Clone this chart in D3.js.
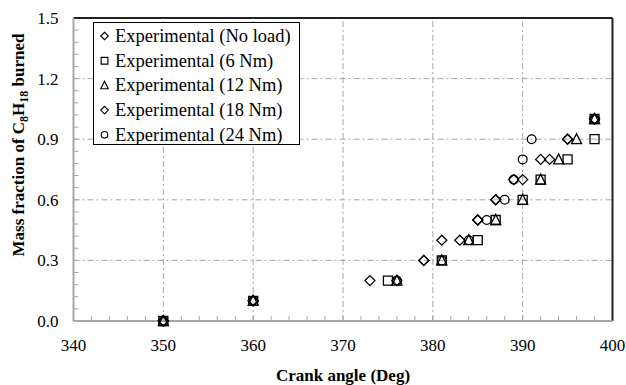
<!DOCTYPE html>
<html>
<head>
<meta charset="utf-8">
<script src="https://cdn.jsdelivr.net/npm/d3@7"></script>
<style>
  body { margin: 0; background: #fff; }
  text { font-family: "Liberation Serif", "Times New Roman", serif; }
</style>
</head>
<body>
<div id="chart"></div>
<script>
// mass fraction levels shared by every series
const fractions = [0, 0.1, 0.2, 0.3, 0.4, 0.5, 0.6, 0.7, 0.8, 0.9, 1.0];

// crank angle (deg) at which each fraction is reached
const noLoad = [350, 360, 373, 379, 381, 385, 387, 389, 392, 395, 398];
const load6 = [350, 360, 375, 381, 385, 387, 390, 392, 395, 398, 398];
const load12 = [350, 360, 376, 381, 384, 387, 390, 392, 394, 396, 398];
const load18 = [350, 360, 376, 379, 383, 385, 387, 390, 393, 395, 398];
const load24 = [350, 360, 376, 381, 384, 386, 388, 389, 390, 391, 398];

const seriesNames = ['Experimental (No load)', 'Experimental (6 Nm)', 'Experimental (12 Nm)',
  'Experimental (18 Nm)', 'Experimental (24 Nm)'];
const seriesShapes = ['diamond', 'square', 'triangle', 'diamond', 'circle'];
const seriesAngles = [noLoad, load6, load12, load18, load24];

const xTicks = [340, 350, 360, 370, 380, 390, 400];
const yTicks = [0, 0.3, 0.6, 0.9, 1.2, 1.5];

const width = 626, height = 385;
const margin = { left: 73.5, right: 13.5, top: 18, bottom: 64 };

const svg = d3.select('#chart').append('svg')
  .attr('width', width)
  .attr('height', height);

const x = d3.scaleLinear().domain([340, 400]).range([margin.left, width - margin.right]);
const y = d3.scaleLinear().domain([0, 1.5]).range([height - margin.bottom, margin.top]);

const gridColor = '#a6a6a6';

// dash-dot grid
svg.append('g').selectAll('line')
  .data(xTicks.slice(1, -1))
  .enter().append('line')
  .attr('x1', d => x(d)).attr('x2', d => x(d))
  .attr('y1', y(0)).attr('y2', y(1.5))
  .attr('stroke', gridColor).attr('stroke-width', 1)
  .attr('stroke-dasharray', '6,3,2,3');

svg.append('g').selectAll('line')
  .data(yTicks.slice(1, -1))
  .enter().append('line')
  .attr('x1', x(340)).attr('x2', x(400))
  .attr('y1', d => y(d)).attr('y2', d => y(d))
  .attr('stroke', gridColor).attr('stroke-width', 1)
  .attr('stroke-dasharray', '6,3,2,3');

// minor ticks pointing inward
const xMinor = d3.range(340, 401, 2);
svg.append('g').selectAll('line')
  .data(xMinor)
  .enter().append('line')
  .attr('x1', d => x(d)).attr('x2', d => x(d))
  .attr('y1', y(0)).attr('y2', y(0) - 5)
  .attr('stroke', gridColor).attr('stroke-width', 1);

const yMinor = d3.range(0, 1.5001, 0.06);
svg.append('g').selectAll('line')
  .data(yMinor)
  .enter().append('line')
  .attr('x1', x(340)).attr('x2', x(340) + 5)
  .attr('y1', d => y(d)).attr('y2', d => y(d))
  .attr('stroke', gridColor).attr('stroke-width', 1);

// frame: black top/right, gray axes left/bottom
svg.append('line')
  .attr('x1', x(340)).attr('x2', x(400)).attr('y1', y(1.5)).attr('y2', y(1.5))
  .attr('stroke', '#222').attr('stroke-width', 2);
svg.append('line')
  .attr('x1', x(400)).attr('x2', x(400)).attr('y1', y(1.5)).attr('y2', y(0))
  .attr('stroke', '#222').attr('stroke-width', 2);
svg.append('line')
  .attr('x1', x(340)).attr('x2', x(340)).attr('y1', y(1.5)).attr('y2', y(0))
  .attr('stroke', gridColor).attr('stroke-width', 2);
svg.append('line')
  .attr('x1', x(340)).attr('x2', x(400)).attr('y1', y(0)).attr('y2', y(0))
  .attr('stroke', gridColor).attr('stroke-width', 2);

// tick labels
svg.append('g').selectAll('text')
  .data(xTicks)
  .enter().append('text')
  .attr('x', d => x(d))
  .attr('y', y(0) + 30)
  .attr('text-anchor', 'middle')
  .attr('font-size', 17)
  .text(d => d);

svg.append('g').selectAll('text')
  .data(yTicks)
  .enter().append('text')
  .attr('x', x(340) - 15)
  .attr('y', d => y(d) + 6)
  .attr('text-anchor', 'end')
  .attr('font-size', 17)
  .text(d => d3.format('.1f')(d));

// axis titles
svg.append('text')
  .attr('x', (x(340) + x(400)) / 2)
  .attr('y', 381)
  .attr('text-anchor', 'middle')
  .attr('font-size', 17)
  .attr('font-weight', 'bold')
  .text('Crank angle (Deg)');

const yTitle = svg.append('text')
  .attr('transform', 'translate(24,145) rotate(-90)')
  .attr('text-anchor', 'middle')
  .attr('font-size', 17)
  .attr('font-weight', 'bold');
yTitle.append('tspan').text('Mass fraction of C');
yTitle.append('tspan').attr('font-size', 12).attr('dy', 4).text('8');
yTitle.append('tspan').attr('dy', -4).text('H');
yTitle.append('tspan').attr('font-size', 12).attr('dy', 4).text('18');
yTitle.append('tspan').attr('dy', -4).text(' burned');

// marker paths
const markerPath = (shape) => {
  if (shape === 'diamond') return 'M0,-5L5,0L0,5L-5,0Z';
  if (shape === 'square') return 'M-4.5,-4.5H4.5V4.5H-4.5Z';
  if (shape === 'triangle') return 'M0,-5.5L5,4.5H-5Z';
  return d3.symbol().type(d3.symbolCircle).size(60)();
};

seriesAngles.forEach((angles, i) => {
  svg.append('g').selectAll('path')
    .data(angles.map((a, j) => [a, fractions[j]]))
    .enter().append('path')
    .attr('d', markerPath(seriesShapes[i]))
    .attr('transform', d => `translate(${x(d[0])},${y(d[1])})`)
    .attr('fill', 'none')
    .attr('stroke', '#000')
    .attr('stroke-width', 1.3);
});

// legend
const legend = svg.append('g');
legend.append('rect')
  .attr('x', 93.5).attr('y', 22.5)
  .attr('width', 206).attr('height', 122)
  .attr('fill', '#fff').attr('stroke', '#000').attr('stroke-width', 1);

const items = legend.selectAll('.legend-item')
  .data(seriesNames)
  .enter().append('g')
  .attr('class', 'legend-item')
  .attr('transform', (d, i) => `translate(0,${36 + i * 24.7})`);

items.append('path')
  .attr('d', (d, i) => markerPath(seriesShapes[i]))
  .attr('transform', 'translate(104.5,0) scale(0.75)')
  .attr('fill', 'none')
  .attr('stroke', '#000')
  .attr('stroke-width', 1.5);

items.append('text')
  .attr('x', 115)
  .attr('y', 6)
  .attr('font-size', 18.5)
  .text(d => d);
</script>
</body>
</html>
